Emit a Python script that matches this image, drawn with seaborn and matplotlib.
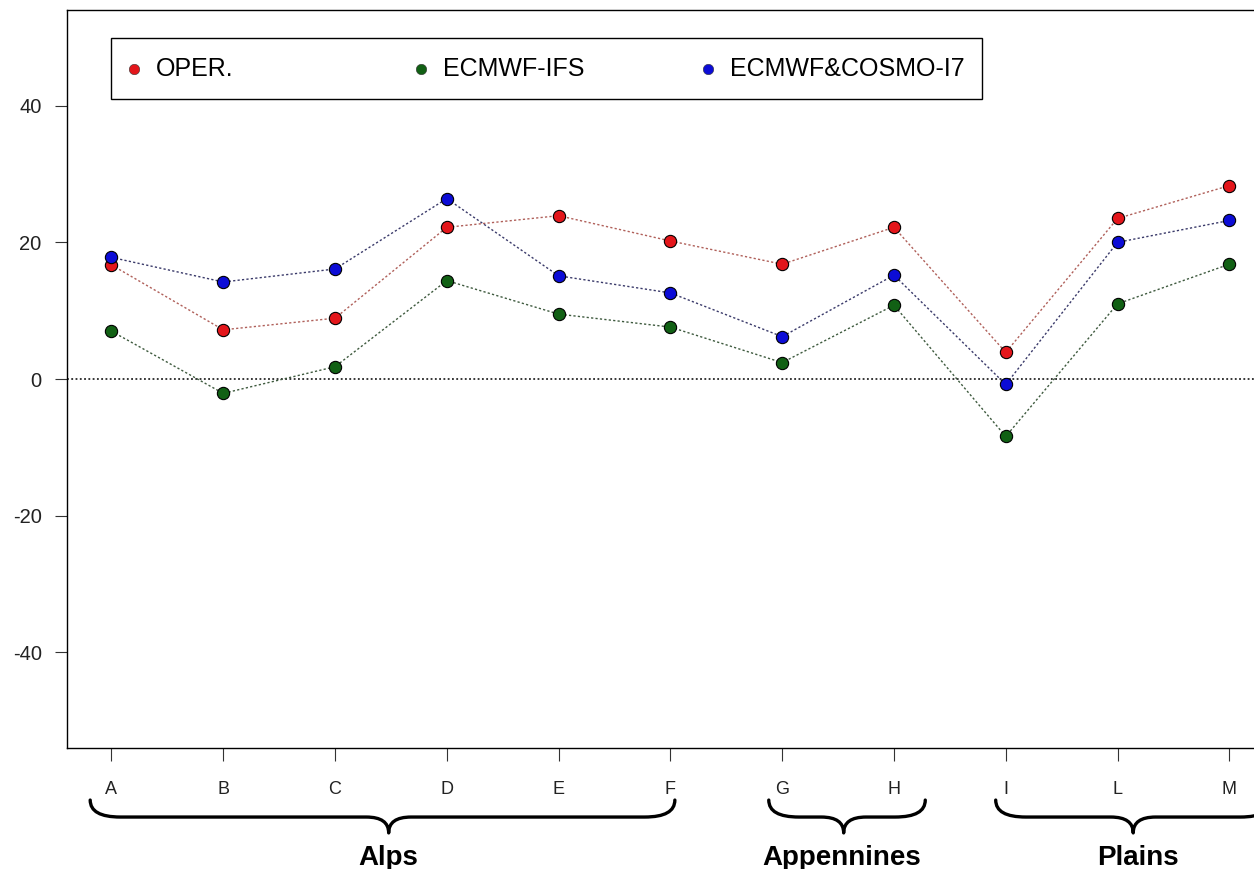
import numpy as np
import pandas as pd
import matplotlib
matplotlib.use("Agg")
import matplotlib.pyplot as plt
import matplotlib.transforms as mtransforms
from matplotlib.path import Path
from matplotlib.patches import PathPatch, Rectangle
import seaborn as sns

# ---------------- data ----------------
categories = ['A', 'B', 'C', 'D', 'E', 'F', 'G', 'H', 'I', 'L', 'M']
oper = [16.7, 7.2, 8.9, 22.2, 23.9, 20.2, 16.8, 22.2, 3.9, 23.5, 28.3]
ecmwf_ifs = [7.0, -2.1, 1.8, 14.4, 9.5, 7.6, 2.4, 10.8, -8.4, 11.0, 16.8]
ecmwf_cosmo = [17.8, 14.2, 16.1, 26.4, 15.1, 12.6, 6.2, 15.2, -0.8, 20.0, 23.2]
series_names = ['OPER.', 'ECMWF-IFS', 'ECMWF&COSMO-I7']
group_names = ['Alps', 'Appennines', 'Plains']
yticks = [-40, -20, 0, 20, 40]

# ---------------- styling ----------------
marker_colors = ['#E3161B', '#116014', '#0C0CD6']
line_colors = ['#B0605A', '#3E5A3E', '#3A3A6A']

sns.set_theme(style="white")
plt.rcParams['font.family'] = ['Liberation Sans', 'DejaVu Sans']

pos = np.arange(1, len(categories) + 1)
df = pd.DataFrame({
    'pos': np.tile(pos, 3),
    'value': oper + ecmwf_ifs + ecmwf_cosmo,
    'series': np.repeat(series_names, len(categories)),
})

fig = plt.figure(figsize=(12.54, 8.69), dpi=100)
ax = fig.add_axes([0.0532, 0.1392, 0.9628, 0.8493])

ax.axhline(0, color='black', lw=1.1, linestyle=(0, (1.2, 1.6)), zorder=1)

for name, lc, mc in zip(series_names, line_colors, marker_colors):
    sub = df[df['series'] == name]
    sns.lineplot(data=sub, x='pos', y='value', ax=ax, color=lc, lw=1.0,
                 linestyle=(0, (1.6, 1.6)), zorder=2, legend=False)
    sns.scatterplot(data=sub, x='pos', y='value', ax=ax, color=mc, s=78,
                    edgecolor='black', linewidth=0.8, zorder=3, legend=False)

ax.set_xlim(0.6, 11.4)
ax.set_ylim(-54, 54)
ax.set_xticks(pos)
ax.set_xticklabels(categories)
ax.set_yticks(yticks)
ax.set_yticklabels([str(v) for v in yticks])
ax.set_xlabel('')
ax.set_ylabel('')

for s in ax.spines.values():
    s.set_color('black')
    s.set_linewidth(1.0)

ax.tick_params(axis='x', length=9, width=0.8, color='#333333', pad=15,
               labelsize=13, labelcolor='#222222', bottom=True)
ax.tick_params(axis='y', length=9, width=0.8, color='#333333', pad=9,
               labelsize=14.5, labelcolor='#222222', left=True)

# ---------------- legend (manual box, equal column spacing) ----------------
leg_x0, leg_x1, leg_y0, leg_y1 = 0.0367, 0.7583, 0.8794, 0.962
ax.add_patch(Rectangle((leg_x0, leg_y0), leg_x1 - leg_x0, leg_y1 - leg_y0,
                       transform=ax.transAxes, fill=False, edgecolor='black',
                       lw=1.0, zorder=5, clip_on=False))
col_w = 0.2377
ymid = (leg_y0 + leg_y1) / 2
for i, (name, mc) in enumerate(zip(series_names, marker_colors)):
    xm = 0.0557 + i * col_w
    ax.plot([xm], [ymid], marker='o', markersize=7.5, color=mc,
            markeredgecolor='#333333', markeredgewidth=0.4,
            transform=ax.transAxes, zorder=6, clip_on=False)
    ax.text(xm + 0.0185, ymid, name, transform=ax.transAxes, fontsize=18,
            va='center', ha='left', color='black', zorder=6)

# ---------------- braces & group labels ----------------
trans = mtransforms.blended_transform_factory(ax.transData, ax.transAxes)
brace_left = [0.81, 6.88, 8.91]
brace_right = [6.04, 8.28, 11.37]
brace_tip = [3.48, 7.55, 10.14]
label_x = [3.48, 7.53, 10.18]
y_top, y_mid, y_tip = -0.0705, -0.0935, -0.115
dx_end, dx_tip = 0.27, 0.2


def brace(x0, x1, xm):
    verts = [
        (x0, y_top), (x0, y_mid), (x0 + dx_end, y_mid),
        (xm - dx_tip, y_mid),
        (xm, y_mid), (xm, y_tip),
        (xm, y_mid), (xm + dx_tip, y_mid),
        (x1 - dx_end, y_mid),
        (x1, y_mid), (x1, y_top),
    ]
    codes = [Path.MOVETO, Path.CURVE3, Path.CURVE3, Path.LINETO,
             Path.CURVE3, Path.CURVE3, Path.CURVE3, Path.CURVE3,
             Path.LINETO, Path.CURVE3, Path.CURVE3]
    return Path(verts, codes)


for x0, x1, xm, lx, gname in zip(brace_left, brace_right, brace_tip, label_x, group_names):
    ax.add_patch(PathPatch(brace(x0, x1, xm), transform=trans, fill=False,
                           edgecolor='black', lw=2.4, clip_on=False,
                           capstyle='round', joinstyle='round'))
    ax.text(lx, -0.158, gname, transform=trans, ha='center', va='baseline',
            fontsize=20, fontweight='bold', color='black', clip_on=False)

fig.savefig('out.png', dpi=100)
